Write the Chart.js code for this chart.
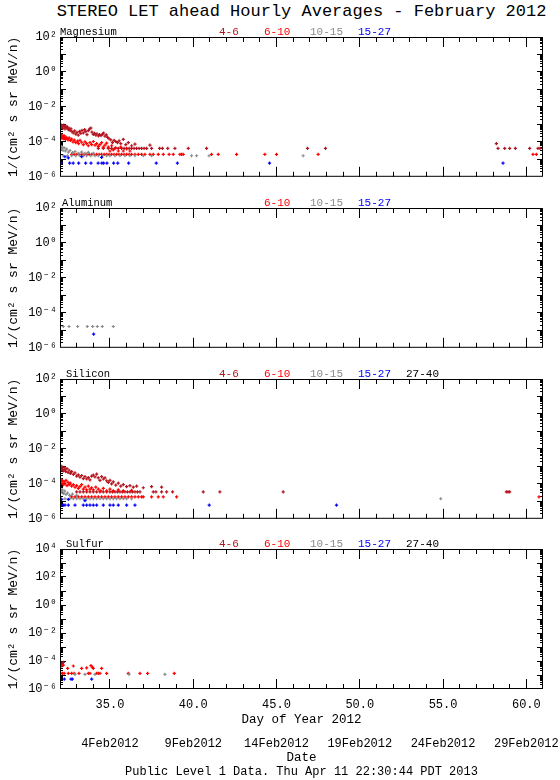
<!DOCTYPE html>
<html lang="en">
<head>
<meta charset="UTF-8">
<title>STEREO LET ahead Hourly Averages - February 2012</title>
<script src="https://cdn.jsdelivr.net/npm/chart.js"></script>
<style>
  body { margin: 0; background: #fff; }
  #page { position: relative; width: 560px; height: 780px; overflow: hidden;
          font-family: 'Liberation Mono', 'DejaVu Sans Mono', monospace; color: #000; }
  #page canvas { position: absolute; left: 0; }
  .txt { position: absolute; left: 0; width: 603px; text-align: center; white-space: nowrap; }
</style>
</head>
<body>
<div id="page">
  <div class="txt" style="top:2px;font-size:17px;line-height:20px;">STEREO LET ahead Hourly Averages - February 2012</div>
  <canvas id="mgChart"></canvas>
  <canvas id="alChart"></canvas>
  <canvas id="siChart"></canvas>
  <canvas id="sChart"></canvas>
  <div class="txt" style="top:765px;font-size:12px;line-height:14px;">Public Level 1 Data. Thu Apr 11 22:30:44 PDT 2013</div>
</div>

<script>
// x axis: day of year
const dayMin = 32, dayMax = 61;
const xTickDays = [35, 40, 45, 50, 55, 60];
const xTickLabels = ['35.0', '40.0', '45.0', '50.0', '55.0', '60.0'];
const dateLabels = ['4Feb2012', '9Feb2012', '14Feb2012', '19Feb2012', '24Feb2012', '29Feb2012'];

// y axis ticks
const yTickValues = [1e-6, 1e-4, 1e-2, 1, 1e2];
const yTickLabels = ['10⁻⁶', '10⁻⁴', '10⁻²', '10⁰', '10²'];
const yTickValuesS = [1e-6, 1e-4, 1e-2, 1, 1e2, 1e4];
const yTickLabelsS = ['10⁻⁶', '10⁻⁴', '10⁻²', '10⁰', '10²', '10⁴'];

// energy ranges (MeV/n)
const rangeLabels = ['4-6', '6-10', '10-15', '15-27', '27-40'];
const rangeColors = ['#b4141e', '#ff0000', '#8c8c8c', '#0000ff', '#000000'];

// Magnesium  [day, flux]
const mg46 = [
  [32.02,8.5e-4],[32.06,9.5e-4],[32.10,7.0e-4],[32.14,8.0e-4],[32.18,6.0e-4],[32.22,9.0e-4],[32.26,7.5e-4],[32.30,5.5e-4],
  [32.35,8.0e-4],[32.40,6.5e-4],[32.45,7.0e-4],[32.50,5.0e-4],[32.55,6.0e-4],[32.60,4.5e-4],[32.66,5.5e-4],[32.72,3.8e-4],
  [32.80,3.2e-4],[32.88,4.2e-4],[32.95,2.8e-4],[33.02,3.5e-4],[33.10,2.4e-4],[33.18,4.0e-4],[33.25,3.0e-4],[33.32,4.5e-4],
  [33.40,3.3e-4],[33.48,5.0e-4],[33.55,3.8e-4],[33.62,2.6e-4],[33.70,4.4e-4],[33.78,5.5e-4],[33.86,6.2e-4],[33.92,3.6e-4],
  [34.00,2.7e-4],[34.08,3.1e-4],[34.15,2.4e-4],[34.22,2.9e-4],[34.30,2.2e-4],[34.38,2.6e-4],[34.46,2.3e-4],[34.55,2.8e-4],
  [34.62,3.2e-4],[34.70,2.1e-4],[34.78,2.5e-4],[34.86,1.8e-4],[34.94,1.5e-4],[35.05,1.3e-4],[35.15,9.0e-5],[35.25,1.2e-4],
  [35.35,1.05e-4],[35.45,9.0e-5],[35.55,1.15e-4],[35.65,8.0e-5],[35.80,1.4e-4],[35.95,7.0e-5],[36.10,9.0e-5],[36.30,6.0e-5],
  [36.50,7.5e-5],[37.40,6.5e-5],
  [34.30,4.2e-5],[34.60,4.2e-5],[34.90,4.2e-5],[35.10,4.2e-5],[35.30,4.2e-5],[35.50,4.2e-5],[35.70,4.2e-5],[35.85,4.2e-5],
  [36.00,4.2e-5],[36.15,4.2e-5],[36.30,4.2e-5],[36.45,4.2e-5],[36.60,4.2e-5],[36.75,4.2e-5],[36.90,4.2e-5],[37.05,4.2e-5],
  [37.20,4.2e-5],[37.50,4.2e-5],[37.98,4.2e-5],[38.15,4.2e-5],[38.47,4.2e-5],[38.90,4.2e-5],[39.70,4.2e-5],[40.80,4.2e-5],
  [46.86,4.2e-5],[47.94,4.2e-5],
  [58.20,7.9e-5],[58.30,4.2e-5],[58.70,4.2e-5],[59.00,4.2e-5],[59.34,4.2e-5],[60.20,4.2e-5],[60.70,4.2e-5],[60.82,4.2e-5]
];
const mg610 = [
  [32.02,2.2e-4],[32.05,1.8e-4],[32.08,2.5e-4],[32.12,1.6e-4],[32.16,2.0e-4],[32.20,1.5e-4],[32.24,2.3e-4],[32.28,1.7e-4],
  [32.32,1.4e-4],[32.36,1.9e-4],[32.42,1.6e-4],[32.48,1.3e-4],[32.55,1.7e-4],[32.62,1.2e-4],[32.70,1.45e-4],[32.78,1.0e-4],
  [32.86,1.25e-4],[32.95,9.0e-5],[33.05,1.1e-4],[33.12,8.0e-5],[33.20,1.2e-4],[33.30,9.5e-5],[33.40,7.0e-5],[33.50,1.0e-4],
  [33.60,8.0e-5],[33.70,6.0e-5],[33.80,9.0e-5],[33.90,7.0e-5],[34.00,1.05e-4],[34.10,6.5e-5],[34.20,8.0e-5],[34.30,5.5e-5],
  [34.40,7.0e-5],[34.50,9.0e-5],[34.60,5.0e-5],[34.70,6.5e-5],[34.80,8.5e-5],[34.90,5.0e-5],[35.00,3.0e-5],[35.10,6.0e-5],
  [35.20,3.5e-5],[35.35,4.5e-5],[35.50,3.0e-5],[35.65,5.0e-5],[35.80,3.0e-5],[36.00,4.0e-5],[36.20,3.0e-5],
  [32.70,1.9e-5],[32.85,1.9e-5],[33.00,1.9e-5],[33.15,1.9e-5],[33.30,1.9e-5],[33.45,1.9e-5],[33.60,1.9e-5],[33.75,1.9e-5],
  [33.90,1.9e-5],[34.05,1.9e-5],[34.20,1.9e-5],[34.35,1.9e-5],[34.50,1.9e-5],[34.65,1.9e-5],[34.80,1.9e-5],[34.95,1.9e-5],
  [35.10,1.9e-5],[35.25,1.9e-5],[35.40,1.9e-5],[35.55,1.9e-5],[35.70,1.9e-5],[35.85,1.9e-5],[36.00,1.9e-5],[36.15,1.9e-5],
  [36.30,1.9e-5],[36.50,1.9e-5],[36.70,1.9e-5],[36.90,1.9e-5],[37.10,1.9e-5],[37.40,1.9e-5],[37.60,1.9e-5],[37.90,1.9e-5],
  [38.20,1.9e-5],[38.55,1.9e-5],[38.80,1.9e-5],[39.20,1.9e-5],[39.30,1.9e-5],[39.40,1.9e-5],[41.10,1.9e-5],[41.50,1.9e-5],
  [42.60,1.9e-5],[44.30,1.9e-5],[45.00,1.9e-5],[47.50,1.9e-5],[60.40,1.9e-5],[60.60,1.9e-5]
];
const mg1015 = [
  [32.03,6.0e-5],[32.08,4.0e-5],[32.12,5.0e-5],[32.18,3.2e-5],[32.25,4.5e-5],[32.32,3.0e-5],[32.40,3.8e-5],[32.50,2.6e-5],
  [32.60,3.2e-5],[32.75,2.4e-5],[32.90,2.8e-5],[33.10,2.2e-5],[33.30,2.6e-5],[33.50,2.2e-5],[33.70,2.5e-5],[34.00,2.2e-5],
  [32.20,1.6e-5],[32.45,1.6e-5],[32.70,1.6e-5],[32.95,1.6e-5],[33.20,1.6e-5],[33.40,1.6e-5],[33.60,1.6e-5],[33.85,1.6e-5],
  [34.10,1.6e-5],[34.30,1.6e-5],[34.55,1.6e-5],[34.80,1.6e-5],[35.00,1.6e-5],[35.30,1.6e-5],[35.60,1.6e-5],[35.90,1.6e-5],
  [36.20,1.6e-5],[36.50,1.6e-5],[37.00,1.6e-5],[37.50,1.6e-5],[39.90,1.6e-5],[40.20,1.6e-5],[40.95,1.6e-5],[46.60,1.6e-5]
];
const mg1527 = [
  [32.30,1.4e-5],[32.50,1.2e-5],[33.30,1.4e-5],[34.50,1.3e-5],
  [32.02,6.0e-6],[32.08,6.0e-6],[32.58,6.0e-6],[32.79,6.0e-6],[33.12,6.0e-6],[33.54,6.0e-6],[33.86,6.0e-6],[34.29,6.0e-6],
  [34.51,6.0e-6],[34.62,6.0e-6],[34.82,6.0e-6],[35.22,6.0e-6],[35.47,6.0e-6],[36.12,6.0e-6],[37.78,6.0e-6],[39.05,6.0e-6],
  [44.58,6.0e-6],[58.60,6.0e-6]
];

// Aluminum
const al1015 = [
  [32.20,1.65e-5],[32.54,1.65e-5],[33.06,1.65e-5],[33.64,1.65e-5],[33.96,1.65e-5],[34.24,1.65e-5],[34.54,1.65e-5],[35.20,1.65e-5]
];
const al1527 = [[34.02,6.0e-6]];

// Silicon
const si46 = [
  [32.02,8.0e-4],[32.06,6.0e-4],[32.10,1.0e-3],[32.14,7.0e-4],[32.20,5.5e-4],[32.25,8.5e-4],[32.30,6.5e-4],[32.35,5.0e-4],
  [32.42,7.5e-4],[32.48,4.5e-4],[32.55,6.0e-4],[32.62,4.0e-4],[32.70,5.0e-4],[32.80,3.5e-4],[32.90,4.2e-4],[33.00,2.8e-4],
  [33.10,3.3e-4],[33.20,2.4e-4],[33.30,3.0e-4],[33.40,2.0e-4],[33.50,2.6e-4],[33.60,1.9e-4],[33.70,2.3e-4],[33.80,1.7e-4],
  [33.90,2.8e-4],[34.00,3.2e-4],[34.10,2.5e-4],[34.20,3.6e-4],[34.30,2.2e-4],[34.40,1.6e-4],[34.50,2.6e-4],[34.60,1.9e-4],
  [34.70,2.2e-4],[34.80,1.5e-4],[34.90,1.2e-4],[35.00,1.6e-4],[35.10,1.0e-4],[35.20,1.3e-4],[35.35,8.5e-5],[35.50,1.1e-4],
  [35.65,7.5e-5],[35.80,9.0e-5],[36.00,7.0e-5],[36.20,8.0e-5],[36.40,6.5e-5],[36.60,7.5e-5],[37.00,6.0e-5],[37.50,7.0e-5],
  [38.10,6.5e-5],
  [33.00,3.5e-5],[33.20,3.5e-5],[33.40,3.5e-5],[33.60,3.5e-5],[33.80,3.5e-5],[34.00,3.5e-5],[34.20,3.5e-5],[34.40,3.5e-5],
  [34.60,3.5e-5],[34.80,3.5e-5],[35.00,3.5e-5],[35.15,3.5e-5],[35.30,3.5e-5],[35.45,3.5e-5],[35.60,3.5e-5],[35.75,3.5e-5],
  [35.90,3.5e-5],[36.05,3.5e-5],[36.20,3.5e-5],[36.35,3.5e-5],[36.50,3.5e-5],[36.65,3.5e-5],[36.80,3.5e-5],[37.60,3.5e-5],
  [37.76,3.5e-5],[38.10,3.5e-5],[38.40,3.5e-5],[38.76,3.5e-5],[40.60,3.5e-5],[41.60,3.5e-5],[45.40,3.5e-5],
  [58.80,3.5e-5],[58.90,3.5e-5],[59.00,3.5e-5]
];
const si610 = [
  [32.02,2.0e-4],[32.05,1.4e-4],[32.08,1.7e-4],[32.12,1.1e-4],[32.16,1.5e-4],[32.20,9.0e-5],[32.25,1.3e-4],[32.30,1.0e-4],
  [32.36,1.6e-4],[32.42,8.0e-5],[32.48,1.2e-4],[32.55,9.0e-5],[32.62,1.1e-4],[32.70,7.5e-5],[32.80,9.0e-5],[32.90,6.5e-5],
  [33.00,8.0e-5],[33.10,5.5e-5],[33.20,7.0e-5],[33.30,9.0e-5],[33.40,5.0e-5],[33.50,6.5e-5],[33.60,4.5e-5],[33.70,7.5e-5],
  [33.80,5.0e-5],[33.90,6.0e-5],[34.00,4.5e-5],[34.15,6.5e-5],[34.30,5.0e-5],[34.45,4.0e-5],[34.60,5.5e-5],[34.80,4.0e-5],
  [35.00,5.0e-5],[35.20,4.0e-5],[35.50,4.5e-5],[35.80,4.0e-5],[36.30,4.2e-5],
  [32.70,1.8e-5],[32.90,1.8e-5],[33.10,1.8e-5],[33.30,1.8e-5],[33.50,1.8e-5],[33.70,1.8e-5],[33.90,1.8e-5],[34.10,1.8e-5],
  [34.30,1.8e-5],[34.50,1.8e-5],[34.70,1.8e-5],[34.90,1.8e-5],[35.10,1.8e-5],[35.30,1.8e-5],[35.50,1.8e-5],[35.70,1.8e-5],
  [35.90,1.8e-5],[36.10,1.8e-5],[36.30,1.8e-5],[36.50,1.8e-5],[36.70,1.8e-5],[36.90,1.8e-5],[37.00,1.8e-5],[37.50,1.8e-5],
  [37.90,1.8e-5],[38.20,1.8e-5],[39.00,1.8e-5],[60.76,1.8e-5]
];
const si1015 = [
  [32.03,5.0e-5],[32.08,3.5e-5],[32.14,4.5e-5],[32.20,2.8e-5],[32.28,3.8e-5],[32.36,2.5e-5],[32.46,3.0e-5],[32.58,2.2e-5],
  [32.75,2.6e-5],[33.00,2.2e-5],
  [32.30,1.4e-5],[32.60,1.4e-5],[32.80,1.4e-5],[33.00,1.4e-5],[33.20,1.4e-5],[33.40,1.4e-5],[33.60,1.4e-5],[33.80,1.4e-5],
  [34.00,1.4e-5],[34.20,1.4e-5],[34.40,1.4e-5],[34.60,1.4e-5],[34.80,1.4e-5],[35.00,1.4e-5],[35.20,1.4e-5],[35.40,1.4e-5],
  [35.60,1.4e-5],[35.80,1.4e-5],[36.00,1.4e-5],[36.30,1.4e-5],[54.86,1.4e-5]
];
const si1527 = [
  [32.02,1.5e-5],[32.10,1.3e-5],[32.50,1.3e-5],[33.50,1.1e-5],
  [32.08,6.0e-6],[32.20,6.0e-6],[32.30,6.0e-6],[32.50,6.0e-6],[32.90,6.0e-6],[33.40,6.0e-6],[33.60,6.0e-6],[33.80,6.0e-6],
  [34.00,6.0e-6],[34.20,6.0e-6],[34.60,6.0e-6],[35.00,6.0e-6],[35.20,6.0e-6],[35.50,6.0e-6],[36.00,6.0e-6],[36.50,6.0e-6],
  [40.96,6.0e-6],[48.60,6.0e-6]
];

// Sulfur
const s46 = [[32.04,7.0e-5],[32.12,5.5e-5],[32.20,8.0e-5]];
const s610 = [
  [32.10,4.5e-5],[32.20,5.0e-5],[32.80,4.4e-5],[33.86,4.6e-5],[32.46,3.0e-5],[33.30,3.0e-5],[33.60,3.2e-5],[33.95,3.5e-5],
  [34.00,3.0e-5],[34.50,3.0e-5],
  [32.05,1.3e-5],[32.15,1.3e-5],[32.25,1.3e-5],[32.50,1.3e-5],[32.70,1.3e-5],[32.85,1.3e-5],[33.14,1.3e-5],[33.70,1.3e-5],
  [33.80,1.3e-5],[34.20,1.3e-5],[34.30,1.3e-5],[34.40,1.3e-5],[34.80,1.3e-5],[36.10,1.3e-5],[36.80,1.3e-5],[37.26,1.3e-5],
  [38.86,1.3e-5]
];
const s1015 = [[32.90,1.1e-5],[33.50,1.1e-5],[34.10,1.1e-5],[36.14,1.1e-5],[38.30,1.1e-5]];
const s1527 = [[32.26,5.0e-6],[32.66,5.0e-6],[32.74,5.0e-6],[33.90,5.0e-6]];

const panels = [
  { id: 'mgChart', name: 'Magnesium', nameX: 60, top: 37,  bottom: 177, yMax: 1e2, yTicks: yTickValues,  yLabels: yTickLabels,
    show: [true, true, true, true, false], series: [mg46, mg610, mg1015, mg1527, []] },
  { id: 'alChart', name: 'Aluminum',  nameX: 62, top: 208, bottom: 348, yMax: 1e2, yTicks: yTickValues,  yLabels: yTickLabels,
    show: [false, true, true, true, false], series: [[], [], al1015, al1527, []] },
  { id: 'siChart', name: 'Silicon',   nameX: 66, top: 379, bottom: 519, yMax: 1e2, yTicks: yTickValues,  yLabels: yTickLabels,
    show: [true, true, true, true, true], series: [si46, si610, si1015, si1527, []] },
  { id: 'sChart',  name: 'Sulfur',    nameX: 66, top: 549, bottom: 689, yMax: 1e4, yTicks: yTickValuesS, yLabels: yTickLabelsS,
    show: [true, true, true, true, true], series: [s46, s610, s1015, s1527, []], last: true }
];

const rangeX = [219, 264, 310, 358, 406];
const FONT = "'Liberation Mono', 'DejaVu Sans Mono', monospace";
Chart.defaults.font.family = FONT;
Chart.defaults.color = '#000';

// tick-mark positions for the inward ticks (every day, every 5 days, log decades)
const minorDays = [];
for (let d = dayMin + 1; d < dayMax; d++) minorDays.push(d);
const majorDays = minorDays.filter(d => d % 5 === 0);
function logMarks(yMax, major) {
  const out = [];
  const eMax = Math.round(Math.log10(yMax));
  for (let e = -6; e < eMax; e++) {
    if (major) { if (e > -6) out.push(Math.pow(10, e)); continue; }
    for (let m = 2; m <= 9; m++) out.push(m * Math.pow(10, e));
  }
  return out;
}

const zeroPad = s => { s.paddingLeft = 0; s.paddingRight = 0; s.paddingTop = 0; s.paddingBottom = 0; };

// an invisible, zero-size axis that only draws short tick marks pointing into the plot
function tickAxis(position, type, max, values, len) {
  return {
    type, position, weight: -10, display: true,
    min: type === 'linear' ? dayMin : 1e-6, max,
    grid: { display: true, drawOnChartArea: false, drawTicks: true, tickLength: -len,
            color: '#000', tickColor: '#000', tickWidth: 1, lineWidth: 1 },
    border: { display: false },
    ticks: { display: false, autoSkip: false },
    afterBuildTicks: s => { s.ticks = values.map(v => ({ value: v })); },
    afterFit: s => { if (s.isHorizontal()) s.height = 0; else s.width = 0; zeroPad(s); }
  };
}

function drawPanelText(chart, p) {
  const ctx = chart.ctx;
  const a = chart.chartArea;
  ctx.save();
  ctx.strokeStyle = '#000';
  ctx.lineWidth = 1;
  ctx.strokeRect(a.left + 0.5, a.top + 0.5, a.right - a.left - 1, a.bottom - a.top - 1);
  ctx.textBaseline = 'alphabetic';
  ctx.textAlign = 'left';
  ctx.fillStyle = '#000';
  ctx.font = '10.5px ' + FONT;
  ctx.fillText(p.name, p.nameX, a.top - 2);
  ctx.font = '11px ' + FONT;
  rangeLabels.forEach((lab, i) => {
    if (!p.show[i]) return;
    ctx.fillStyle = rangeColors[i];
    ctx.fillText(lab, rangeX[i], a.top - 2);
  });
  ctx.restore();
}

const toXY = arr => arr.map(([x, y]) => ({ x, y }));

panels.forEach(p => {
  const cv = document.getElementById(p.id);
  const padTop = 30;
  const padBottom = p.last ? 15 : 5;
  const axisSpace = p.last ? 76 : 0;
  cv.width = 560;
  cv.height = padTop + (p.bottom - p.top) + axisSpace + padBottom;
  cv.style.top = (p.top - padTop) + 'px';

  const datasets = p.series.map((data, i) => ({
    label: rangeLabels[i],
    data: toXY(data),
    order: 5 - i,
    showLine: false,
    pointStyle: 'cross',
    pointRadius: 1.6,
    pointBorderWidth: 1.2,
    pointBorderColor: rangeColors[i],
    pointBackgroundColor: rangeColors[i]
  }));

  const yMinor = logMarks(p.yMax, false);
  const yMajor = logMarks(p.yMax, true);

  const scales = {
    x: {
      type: 'linear', min: dayMin, max: dayMax, weight: 0,
      display: !!p.last,
      grid: { display: false, drawTicks: false },
      border: { display: false },
      afterBuildTicks: s => { s.ticks = xTickDays.map(v => ({ value: v })); },
      afterFit: s => { s.height = p.last ? 38 : 0; zeroPad(s); },
      ticks: { autoSkip: false, maxRotation: 0, padding: 9, font: { size: 12 },
               callback: (v, i) => xTickLabels[i] },
      title: { display: !!p.last, text: 'Day of Year 2012', font: { size: 12.5 }, padding: { top: 0, bottom: 0 } }
    },
    y: {
      type: 'logarithmic', min: 1e-6, max: p.yMax, weight: 10,
      grid: { display: false, drawTicks: false },
      border: { display: false },
      afterBuildTicks: s => { s.ticks = p.yTicks.map(v => ({ value: v })); },
      afterFit: s => { s.width = 60; zeroPad(s); },
      ticks: { autoSkip: false, padding: 3, font: { size: 12 },
               callback: (v, i) => p.yLabels[i] },
      title: { display: true, text: '1/(cm² s sr MeV/n)', font: { size: 13 }, padding: { top: 6, bottom: 0 } }
    },
    tickB:  tickAxis('bottom', 'linear', dayMax, minorDays, 5),
    tickBM: tickAxis('bottom', 'linear', dayMax, majorDays, 10),
    tickT:  tickAxis('top', 'linear', dayMax, minorDays, 5),
    tickTM: tickAxis('top', 'linear', dayMax, majorDays, 10),
    tickL:  tickAxis('left', 'logarithmic', p.yMax, yMinor, 3),
    tickLM: tickAxis('left', 'logarithmic', p.yMax, yMajor, 6),
    tickR:  tickAxis('right', 'logarithmic', p.yMax, yMinor, 3),
    tickRM: tickAxis('right', 'logarithmic', p.yMax, yMajor, 6)
  };
  if (p.last) {
    scales.x2 = {
      type: 'linear', position: 'bottom', min: dayMin, max: dayMax, weight: 1,
      grid: { display: false, drawTicks: false },
      border: { display: false },
      afterBuildTicks: s => { s.ticks = xTickDays.map(v => ({ value: v })); },
      afterFit: s => { s.height = 38; zeroPad(s); },
      ticks: { autoSkip: false, maxRotation: 0, padding: 10, font: { size: 12 },
               callback: (v, i) => dateLabels[i] },
      title: { display: true, text: 'Date', font: { size: 12.5 }, padding: { top: 0, bottom: 0 } }
    };
  }

  new Chart(cv, {
    type: 'scatter',
    data: { datasets },
    options: {
      responsive: false,
      animation: false,
      layout: { padding: { top: padTop, left: 0, right: 17, bottom: padBottom } },
      scales,
      plugins: { legend: { display: false }, tooltip: { enabled: false } }
    },
    plugins: [{
      id: 'panelText',
      afterDraw(chart) { drawPanelText(chart, p); }
    }]
  });
});
</script>
</body>
</html>
